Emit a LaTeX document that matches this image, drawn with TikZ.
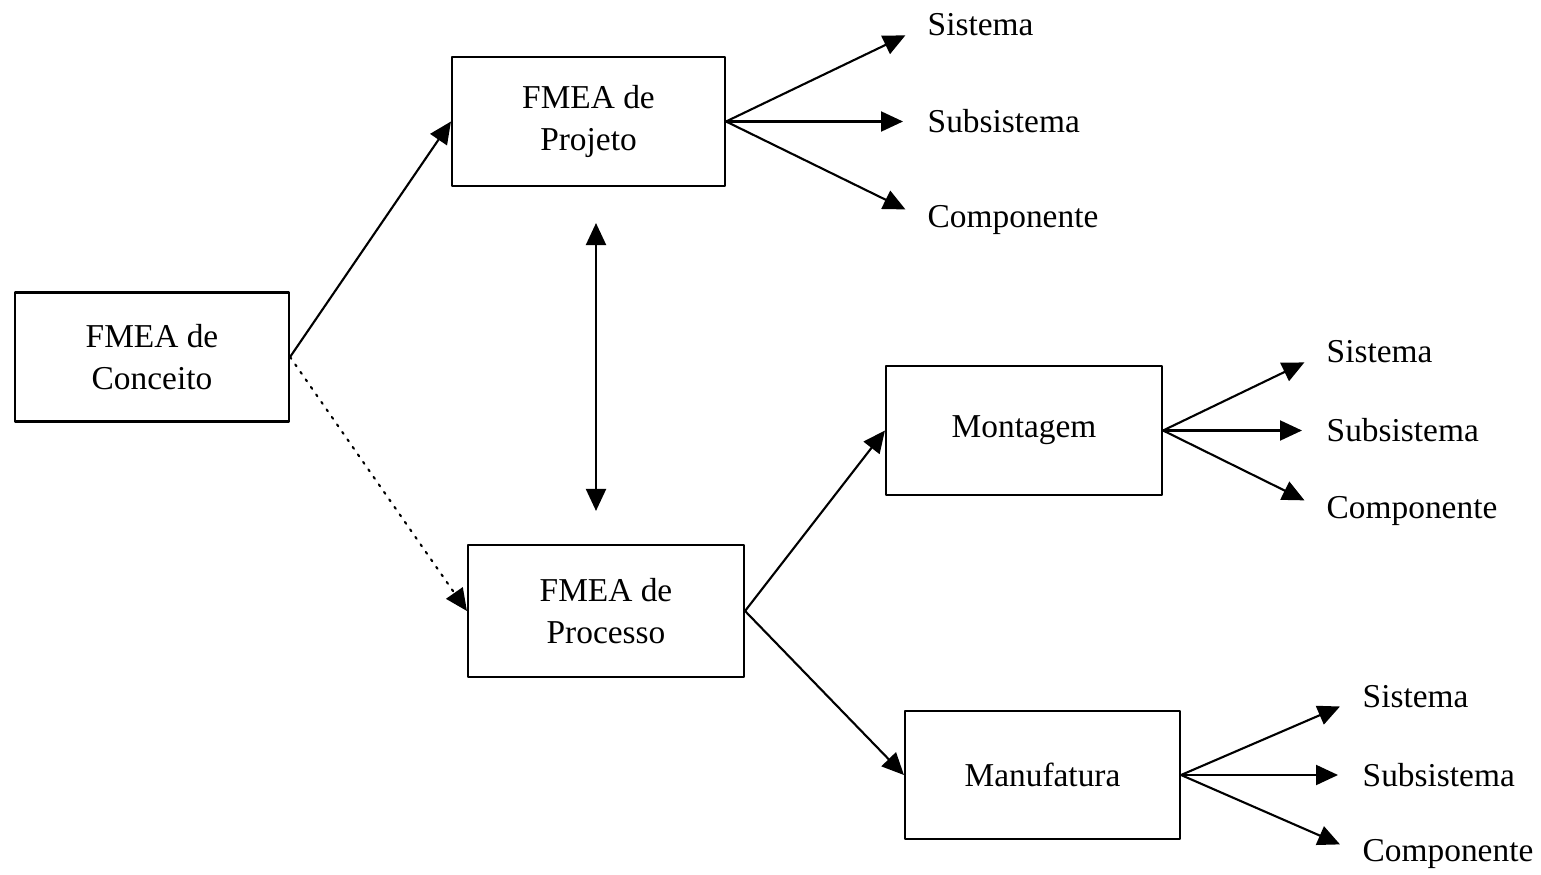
\documentclass[tikz,border=0pt]{standalone}
\usepackage{fontspec}
\setmainfont{Liberation Serif}
\usetikzlibrary{arrows.meta}

\begin{document}
\begin{tikzpicture}[line cap=round,line join=round,
    font=\fontsize{9.5}{12}\selectfont,
    fmeabox/.style={draw,line width=0.6pt,align=center,inner sep=0pt},
    leaf/.style={anchor=west,inner sep=0pt},
    tip/.style={-{Triangle[length=0.22cm,width=0.2cm]},line width=0.6pt},
    fan/.style={tip,shorten >=0.24cm}]
  \useasboundingbox (0,0) rectangle (15.41,8.74);
  % the five boxes
  \node[fmeabox,minimum width=2.74cm,minimum height=1.29cm] (conc) at (1.52,5.17) {FMEA de\\Conceito};
  \node[fmeabox,minimum width=2.73cm,minimum height=1.29cm] (proj) at (5.885,7.525) {FMEA de\\Projeto};
  \node[fmeabox,minimum width=2.76cm,minimum height=1.32cm] (proc) at (6.06,2.63) {FMEA de\\Processo};
  \node[fmeabox,minimum width=2.76cm,minimum height=1.29cm] (mont) at (10.24,4.435) {Montagem};
  \node[fmeabox,minimum width=2.75cm,minimum height=1.28cm] (manu) at (10.425,0.99) {Manufatura};
  % levels reached by each branch
  \node[leaf] (projSis) at (9.27,8.49) {Sistema};
  \node[leaf] (projSub) at (9.27,7.525) {Subsistema};
  \node[leaf] (projCom) at (9.27,6.54) {Componente};
  \node[leaf] (montSis) at (13.26,5.22) {Sistema};
  \node[leaf] (montSub) at (13.26,4.435) {Subsistema};
  \node[leaf] (montCom) at (13.26,3.63) {Componente};
  \node[leaf] (manuSis) at (13.62,1.77) {Sistema};
  \node[leaf] (manuSub) at (13.62,0.99) {Subsistema};
  \node[leaf] (manuCom) at (13.62,0.20) {Componente};
  \draw[tip] (conc.east) -- (proj.west);
  \draw[tip,dotted] (conc.east) -- (proc.west);
  \draw[line width=0.6pt,{Triangle[length=0.22cm,width=0.2cm]}-{Triangle[length=0.22cm,width=0.2cm]},shorten <=0.36cm,shorten >=0.33cm] (proj.south -| 5.96,0) -- (proc.north -| 5.96,0);
  \draw[tip] (proc.east) -- (mont.west);
  \draw[tip] (proc.east) -- (manu.west);
  \foreach \src in {proj,mont,manu}{
    \foreach \lvl in {Sis,Sub,Com}{
      \draw[fan] (\src.east) -- (\src\lvl.west);
    }
  }
\end{tikzpicture}
\end{document}
